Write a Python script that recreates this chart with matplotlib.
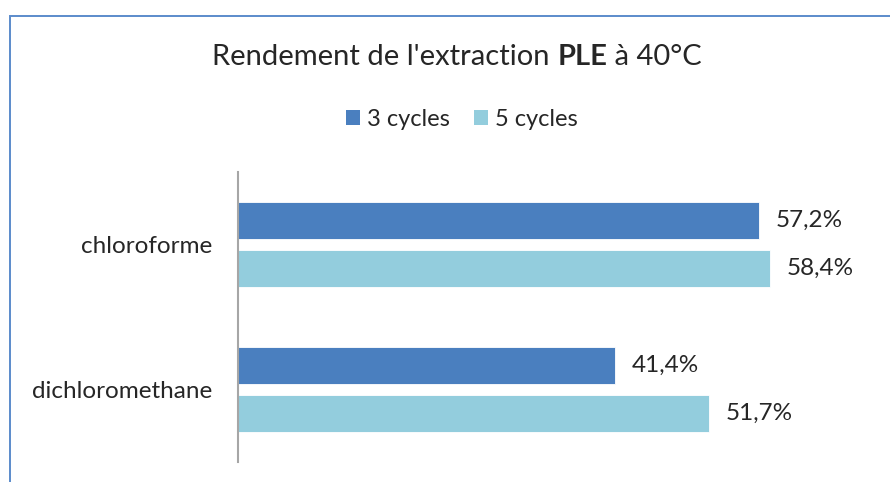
import matplotlib
matplotlib.use("Agg")
import matplotlib.pyplot as plt
from matplotlib.patches import Rectangle, Patch

plt.rcParams['font.family'] = ['Lato', 'DejaVu Sans']

categories = ["chloroforme", "dichloromethane"]
series = ["3 cycles", "5 cycles"]
cycles3 = [57.2, 41.4]
cycles5 = [58.4, 51.7]
colors = ["#4A7FBF", "#93CDDD"]
txt = "#262626"

W, H = 890, 482
fig = plt.figure(figsize=(W / 100, H / 100), dpi=100)

# outer chart frame (runs off the right/bottom edge)
fig.patches.append(Rectangle((9.5 / W, -0.05), 1.2, 1 - 15.5 / H + 0.05,
                             transform=fig.transFigure, fill=False,
                             edgecolor="#5B8BCB", linewidth=1.4))

ax = fig.add_axes([238 / W, 1 - 462 / H, (876 - 238) / W, (462 - 172) / H])

ypos = list(range(len(categories)))
h = 0.262
off = 0.331 / 2
b3 = ax.barh([y - off for y in ypos], cycles3, height=h, color=colors[0],
             edgecolor="white", linewidth=0.6)
b5 = ax.barh([y + off for y in ypos], cycles5, height=h, color=colors[1],
             edgecolor="white", linewidth=0.6)

for bars, vals in ((b3, cycles3), (b5, cycles5)):
    for rect, v in zip(bars, vals):
        ax.annotate(f"{v:.1f}%".replace(".", ","),
                    (v, rect.get_y() + rect.get_height() / 2),
                    xytext=(11.5, 0), textcoords="offset points",
                    ha="left", va="center", fontsize=17.5, color=txt)

ax.set_xlim(0, 70)
ax.set_ylim(len(categories) - 0.5, -0.5)
ax.set_yticks(ypos)
ax.set_yticklabels(categories, fontsize=17.5, color=txt)
ax.tick_params(axis="y", length=0, pad=18.5)
ax.set_xticks([])
for s in ("top", "right", "bottom"):
    ax.spines[s].set_visible(False)
ax.spines["left"].set_color("#A6A6A6")
ax.spines["left"].set_linewidth(1.5)

# title with the bold part in the middle
parts = [("Rendement de l'extraction ", "normal"), ("PLE", "bold"), (" à 40°C", "normal")]
fig.canvas.draw()
r = fig.canvas.get_renderer()
texts = [fig.text(0, 1 - 57 / H, s, fontsize=21, fontweight=w, color=txt,
                  va="center", ha="left") for s, w in parts]
widths = [t.get_window_extent(r).width for t in texts]
x = 457 - sum(widths) / 2
for t, wd in zip(texts, widths):
    t.set_x(x / W)
    x += wd

handles = [Patch(facecolor=c, label=l) for c, l in zip(colors, series)]
fig.legend(handles=handles, loc="center", bbox_to_anchor=(462 / W, 1 - 119 / H),
           ncol=2, frameon=False, fontsize=17, handlelength=0.6, handleheight=0.6,
           handletextpad=0.3, columnspacing=1.0, labelcolor=txt)

fig.savefig("out.png", dpi=100)
